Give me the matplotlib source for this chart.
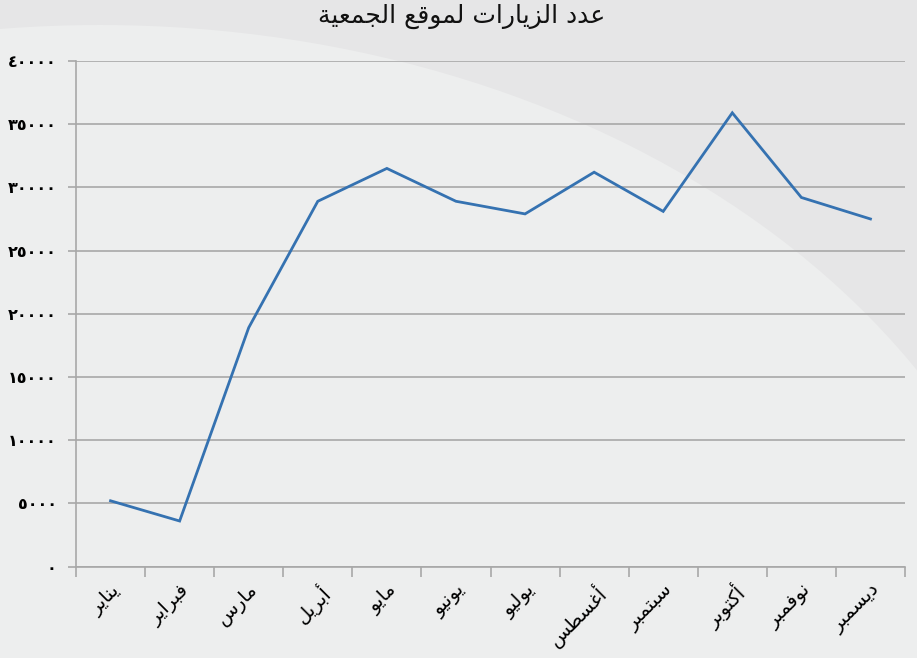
import matplotlib
matplotlib.use("Agg")
import matplotlib.pyplot as plt
from matplotlib.patches import Ellipse

# ---------------- data ----------------
title = "عدد الزيارات لموقع الجمعية"
months = ["يناير", "فبراير", "مارس", "أبريل", "مايو", "يونيو",
          "يوليو", "أغسطس", "سبتمبر", "أكتوبر", "نوفمبر", "ديسمبر"]
visits = [5200, 3600, 18900, 28900, 31500, 28900,
          27900, 31200, 28100, 35900, 29200, 27500]
y_ticks = [0, 5000, 10000, 15000, 20000, 25000, 30000, 35000, 40000]
y_tick_labels = ["٠", "٥٠٠٠", "١٠٠٠٠", "١٥٠٠٠", "٢٠٠٠٠",
                 "٢٥٠٠٠", "٣٠٠٠٠", "٣٥٠٠٠", "٤٠٠٠٠"]

# ---------------- minimal Arabic shaping ----------------
FORMS = {
    'ء': ('\uFE80', None, None, None),
    'آ': ('\uFE81', '\uFE82', None, None),
    'أ': ('\uFE83', '\uFE84', None, None),
    'إ': ('\uFE87', '\uFE88', None, None),
    'ا': ('\uFE8D', '\uFE8E', None, None),
    'ب': ('\uFE8F', '\uFE90', '\uFE91', '\uFE92'),
    'ة': ('\uFE93', '\uFE94', None, None),
    'ت': ('\uFE95', '\uFE96', '\uFE97', '\uFE98'),
    'ث': ('\uFE99', '\uFE9A', '\uFE9B', '\uFE9C'),
    'ج': ('\uFE9D', '\uFE9E', '\uFE9F', '\uFEA0'),
    'ح': ('\uFEA1', '\uFEA2', '\uFEA3', '\uFEA4'),
    'خ': ('\uFEA5', '\uFEA6', '\uFEA7', '\uFEA8'),
    'د': ('\uFEA9', '\uFEAA', None, None),
    'ذ': ('\uFEAB', '\uFEAC', None, None),
    'ر': ('\uFEAD', '\uFEAE', None, None),
    'ز': ('\uFEAF', '\uFEB0', None, None),
    'س': ('\uFEB1', '\uFEB2', '\uFEB3', '\uFEB4'),
    'ش': ('\uFEB5', '\uFEB6', '\uFEB7', '\uFEB8'),
    'ص': ('\uFEB9', '\uFEBA', '\uFEBB', '\uFEBC'),
    'ض': ('\uFEBD', '\uFEBE', '\uFEBF', '\uFEC0'),
    'ط': ('\uFEC1', '\uFEC2', '\uFEC3', '\uFEC4'),
    'ظ': ('\uFEC5', '\uFEC6', '\uFEC7', '\uFEC8'),
    'ع': ('\uFEC9', '\uFECA', '\uFECB', '\uFECC'),
    'غ': ('\uFECD', '\uFECE', '\uFECF', '\uFED0'),
    'ف': ('\uFED1', '\uFED2', '\uFED3', '\uFED4'),
    'ق': ('\uFED5', '\uFED6', '\uFED7', '\uFED8'),
    'ك': ('\uFED9', '\uFEDA', '\uFEDB', '\uFEDC'),
    'ل': ('\uFEDD', '\uFEDE', '\uFEDF', '\uFEE0'),
    'م': ('\uFEE1', '\uFEE2', '\uFEE3', '\uFEE4'),
    'ن': ('\uFEE5', '\uFEE6', '\uFEE7', '\uFEE8'),
    'ه': ('\uFEE9', '\uFEEA', '\uFEEB', '\uFEEC'),
    'و': ('\uFEED', '\uFEEE', None, None),
    'ى': ('\uFEEF', '\uFEF0', None, None),
    'ي': ('\uFEF1', '\uFEF2', '\uFEF3', '\uFEF4'),
}
LAM_ALEF = {'آ': ('\uFEF5', '\uFEF6'), 'أ': ('\uFEF7', '\uFEF8'),
            'إ': ('\uFEF9', '\uFEFA'), 'ا': ('\uFEFB', '\uFEFC')}


def joins_forward(c):
    return c in FORMS and FORMS[c][2] is not None


def shape(text):
    out = []
    chars = list(text)
    i = 0
    n = len(chars)
    while i < n:
        c = chars[i]
        prev = chars[i - 1] if i > 0 else ''
        if c == 'ل' and i + 1 < n and chars[i + 1] in LAM_ALEF:
            iso, fin = LAM_ALEF[chars[i + 1]]
            out.append(fin if joins_forward(prev) else iso)
            i += 2
            continue
        if c in FORMS:
            nxt = chars[i + 1] if i + 1 < n else ''
            cp = joins_forward(prev)
            cn = joins_forward(c) and nxt in FORMS and FORMS[nxt][1] is not None
            iso, fin, ini, med = FORMS[c]
            if cp and cn:
                out.append(med)
            elif cp:
                out.append(fin or iso)
            elif cn:
                out.append(ini)
            else:
                out.append(iso)
        else:
            out.append(c)
        i += 1
    return ''.join(reversed(out))


# ---------------- figure ----------------
W, H = 917, 658
fig = plt.figure(figsize=(W / 100, H / 100), dpi=100)
fig.patch.set_facecolor('#e6e6e7')

# background light swoosh
bg = fig.add_axes([0, 0, 1, 1], zorder=-10)
bg.set_xlim(0, W)
bg.set_ylim(H, 0)
bg.axis('off')
bg.add_patch(Ellipse((100, 750), 2 * 959, 2 * 725, facecolor='#edeeee',
                     edgecolor='none'))

ax = fig.add_axes([76 / W, 1 - 566.5 / H, (905 - 76) / W, (566.5 - 61) / H])
ax.set_facecolor('none')

x = list(range(len(months)))
ax.plot(x, visits, color='#3572b1', linewidth=2.0, solid_joinstyle='miter',
        zorder=3)

ax.set_xlim(-0.5, len(months) - 0.5)
ax.set_ylim(0, 40000)

grid_c = '#a8a8a8'
ax.set_yticks(y_ticks)
ax.set_yticklabels(y_tick_labels, fontsize=11.5, fontweight='bold',
                   family=['DejaVu Sans'])
ax.yaxis.grid(True, color=grid_c, linewidth=1.2, zorder=1)
ax.set_axisbelow(True)

ax.set_xticks([i - 0.5 for i in range(len(months) + 1)])
ax.set_xticklabels([])
ax.set_xticks(x, minor=True)
ax.set_xticklabels([shape(m) for m in months], minor=True, rotation=45,
                   ha='right', va='top', rotation_mode='anchor',
                   fontsize=14, family=['DejaVu Sans'])
ax.tick_params(axis='x', which='minor', length=0, pad=10)
ax.tick_params(axis='x', which='major', length=7, color=grid_c, width=1.2)
ax.tick_params(axis='y', which='major', length=6, color=grid_c, width=1.2,
               pad=8)

for s in ['top', 'right']:
    ax.spines[s].set_visible(False)
for s in ['left', 'bottom']:
    ax.spines[s].set_color(grid_c)
    ax.spines[s].set_linewidth(1.2)

fig.text(462 / W, 1 - 16 / H, shape(title), ha='center', va='center',
         fontsize=18, family=['DejaVu Sans'], color='#111111')

fig.savefig('out.png', dpi=100, facecolor=fig.get_facecolor())
